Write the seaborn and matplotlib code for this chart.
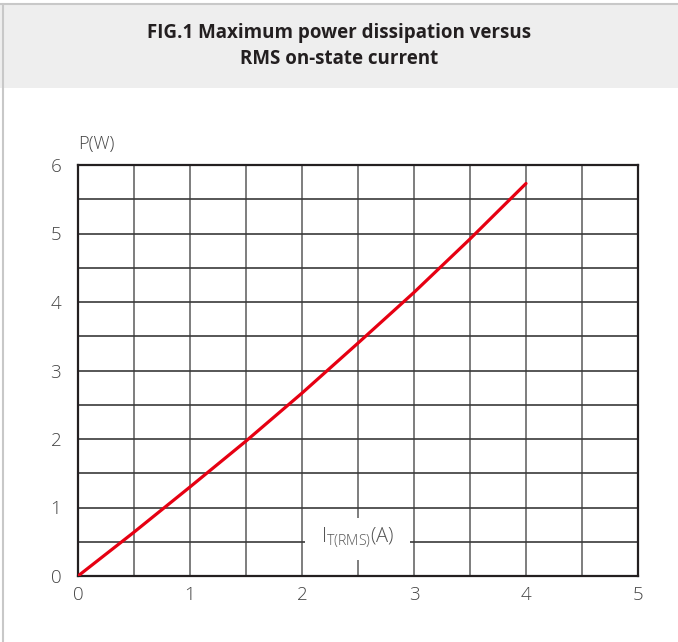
"""FIG.1 maximum power dissipation versus RMS on-state current."""

import matplotlib.pyplot as plt
import numpy as np
import pandas as pd
import seaborn as sns
from matplotlib.patches import Rectangle

current_a = [0.0, 0.5, 1.0, 1.5, 2.0, 2.5, 3.0, 3.5, 4.0]
power_w = [0.0, 0.64, 1.30, 1.97, 2.67, 3.40, 4.14, 4.92, 5.73]
x_ticks = [0, 1, 2, 3, 4, 5]
y_ticks = [0, 1, 2, 3, 4, 5, 6]

sns.set_theme(style="white")
plt.rcParams["font.family"] = ["Open Sans", "DejaVu Sans"]

frame = pd.DataFrame({"current": current_a, "power": power_w})

figure = plt.figure(figsize=(6.78, 6.42), dpi=100)
figure.patch.set_facecolor("white")

# header band and outer border lines
figure.patches.append(Rectangle((0.0, 1 - 88 / 642), 1.0, 83 / 642, transform=figure.transFigure,
                                facecolor="#eeeeee", edgecolor="none", zorder=0))
figure.lines.append(plt.Line2D([0, 1], [1 - 4 / 642] * 2, transform=figure.transFigure,
                               color="#c8c8c8", lw=1.5))
figure.lines.append(plt.Line2D([3 / 678] * 2, [0, 1 - 4 / 642], transform=figure.transFigure,
                               color="#c8c8c8", lw=1.5))
figure.text(0.5, 1 - 33 / 642, "FIG.1 Maximum power dissipation versus", ha="center", va="center",
            fontsize=13.5, fontweight="bold", color="#231f20")
figure.text(0.5, 1 - 59 / 642, "RMS on-state current", ha="center", va="center",
            fontsize=13.5, fontweight="bold", color="#231f20")

axis = figure.add_axes([78 / 678, 66 / 642, 560 / 678, 411 / 642])
axis.set_xlim(0, 5)
axis.set_ylim(0, 6)

for value in np.arange(0.5, 5.0, 0.5):
    axis.axvline(value, color="#7d7d7d", lw=1.4, zorder=1)
for value in np.arange(0.5, 6.0, 0.5):
    axis.axhline(value, color="#3a3a3a", lw=1.2, zorder=1)

sns.lineplot(data=frame, x="current", y="power", color="#e60012", lw=2.3, ax=axis, zorder=3)

# label box that interrupts the grid
axis.add_patch(Rectangle((2.03, 0.24), 0.93, 0.61, facecolor="white", edgecolor="none", zorder=2))
axis.text(2.5, 0.55, r"$\mathregular{I_{T(RMS)}}$(A)", ha="center", va="center",
          fontsize=14.5, fontweight="light", color="#555555", zorder=4)

axis.set_xticks(x_ticks)
axis.set_yticks(y_ticks)
axis.tick_params(axis="both", length=0, labelsize=13.5, labelcolor="#444444")
axis.tick_params(axis="y", pad=12)
axis.tick_params(axis="x", pad=7)
for label in axis.get_xticklabels() + axis.get_yticklabels():
    label.set_fontweight("light")
axis.set_xlabel("")
axis.set_ylabel("")
for spine in axis.spines.values():
    spine.set_color("#231f20")
    spine.set_linewidth(1.6)
axis.text(0.0, 6.18, "P(W)", ha="left", va="bottom", fontsize=13, fontweight="light", color="#444444")

figure.savefig("out.png", dpi=100)
plt.close(figure)
